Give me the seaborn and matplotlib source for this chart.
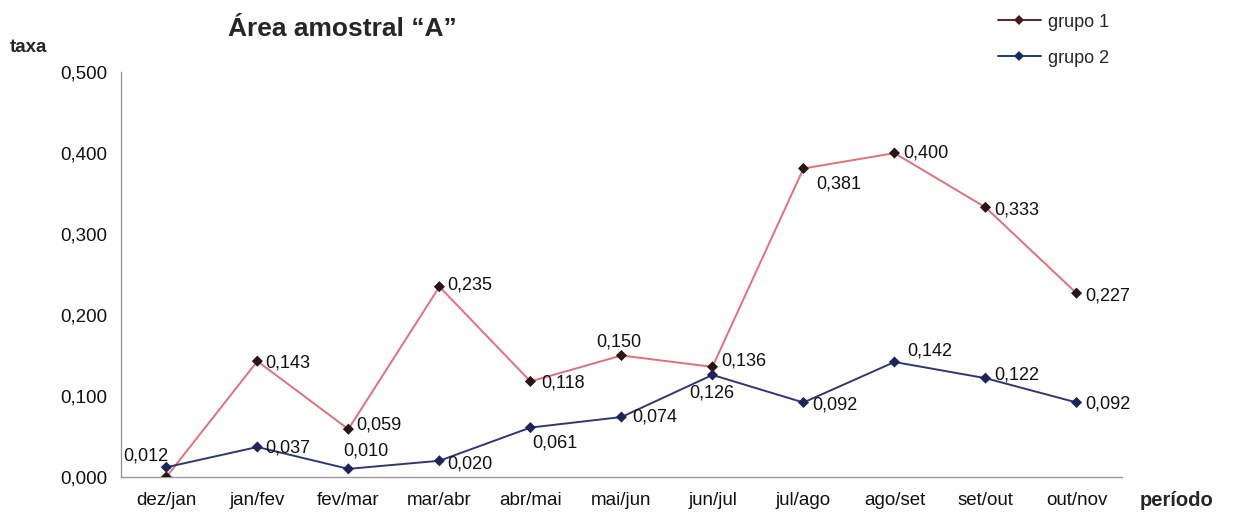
import matplotlib
matplotlib.use("Agg")
import matplotlib.pyplot as plt
import seaborn as sns
import pandas as pd
from matplotlib.lines import Line2D

periodos = ["dez/jan", "jan/fev", "fev/mar", "mar/abr", "abr/mai", "mai/jun",
            "jun/jul", "jul/ago", "ago/set", "set/out", "out/nov"]
grupo1 = [0.000, 0.143, 0.059, 0.235, 0.118, 0.150, 0.136, 0.381, 0.400, 0.333, 0.227]
grupo2 = [0.012, 0.037, 0.010, 0.020, 0.061, 0.074, 0.126, 0.092, 0.142, 0.122, 0.092]
series_nomes = ["grupo 1", "grupo 2"]
y_ticks = [0.0, 0.1, 0.2, 0.3, 0.4, 0.5]

# label offsets in points (dx, dy) for each value label
off1 = [None, (6, -1), (6, 3), (6, 1), (8, -1), (-18, 10), (6, 4), (9, -11), (6, 0), (6, -2), (6, -2)]
off2 = [(-31, 8), (6, -1), (-4, 13), (6, -2), (1, -11), (8, 0), (-17, -13), (6, -2), (9, 8), (6, 2), (6, -1)]

sns.set_theme(style="white")
plt.rcParams["font.family"] = ["Liberation Sans", "DejaVu Sans"]

df = pd.DataFrame({
    "periodo": list(range(len(periodos))) * 2,
    "taxa": grupo1 + grupo2,
    "grupo": [series_nomes[0]] * len(periodos) + [series_nomes[1]] * len(periodos),
})

fig = plt.figure(figsize=(12.33, 5.19), dpi=100)
ax = fig.add_axes([0.098, 0.081, 0.812, 0.780])

line_colors = {"grupo 1": "#e0707c", "grupo 2": "#303870"}
marker_colors = {"grupo 1": "#2a1414", "grupo 2": "#1c2458"}

sns.lineplot(data=df, x="periodo", y="taxa", hue="grupo", palette=line_colors,
             linewidth=1.4, legend=False, ax=ax, zorder=2)
sns.scatterplot(data=df, x="periodo", y="taxa", hue="grupo", palette=marker_colors,
                marker="D", s=32, linewidth=0, legend=False, ax=ax, zorder=3)

for vals, offs in ((grupo1, off1), (grupo2, off2)):
    for i, (v, o) in enumerate(zip(vals, offs)):
        if o is None:
            continue
        ax.annotate(f"{v:.3f}".replace(".", ","), (i, v), xytext=o,
                    textcoords="offset points", ha="left", va="center",
                    fontsize=13, color="#111111")

ax.set_xlim(-0.5, len(periodos) - 0.5)
ax.set_ylim(0, 0.5)
ax.set_yticks(y_ticks)
ax.set_yticklabels([f"{t:.3f}".replace(".", ",") for t in y_ticks], fontsize=13.5, color="#111111")
ax.set_xticks(range(len(periodos)))
ax.set_xticklabels(periodos, fontsize=13.5, color="#111111")
ax.set_xticks([i + 0.5 for i in range(len(periodos) - 1)], minor=True)
ax.tick_params(axis="x", which="major", length=0, pad=11)
ax.tick_params(axis="x", which="minor", length=5, color="#aaaaaa", direction="in")
ax.tick_params(axis="y", length=5, color="#aaaaaa", direction="out", pad=5)
ax.set_xlabel("")
ax.set_ylabel("")
for side in ("top", "right"):
    ax.spines[side].set_visible(False)
for side in ("left", "bottom"):
    ax.spines[side].set_color("#9a9a9a")
    ax.spines[side].set_linewidth(1.0)

fig.text(0.185, 0.945, "Área amostral \u201cA\u201d", fontsize=19, fontweight="bold",
         ha="left", va="center")
fig.text(0.008, 0.908, "taxa", fontsize=13.5, fontweight="bold", ha="left", va="center")
fig.text(0.924, 0.035, "período", fontsize=14.5, fontweight="bold", ha="left", va="center")

handles = [
    Line2D([], [], color="#5a2424", marker="D", markersize=5, markerfacecolor="#4a1a1a",
           markeredgewidth=0, linewidth=1.4),
    Line2D([], [], color="#1e3c6e", marker="D", markersize=5, markerfacecolor="#142c5a",
           markeredgewidth=0, linewidth=1.4),
]
fig.legend(handles, series_nomes, loc="upper left", bbox_to_anchor=(0.796, 1.005),
           frameon=False, fontsize=13, labelspacing=1.05, handlelength=2.4,
           handletextpad=0.4)

fig.savefig("out.png", dpi=100, facecolor="white")
